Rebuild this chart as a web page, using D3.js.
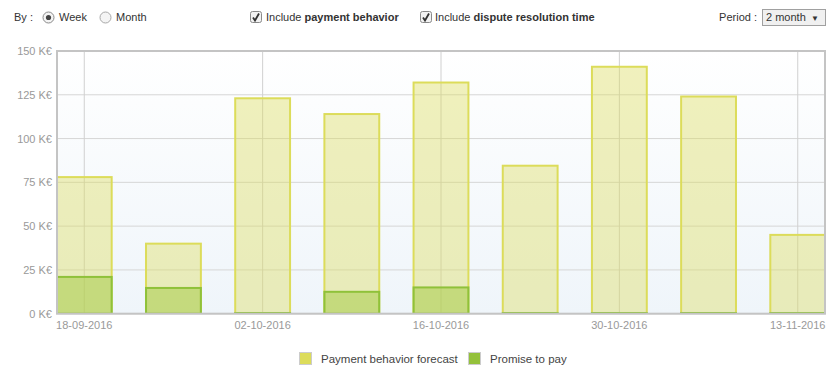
<!DOCTYPE html>
<html><head><meta charset="utf-8">
<script src="https://cdn.jsdelivr.net/npm/d3@7"></script>
<style>
html,body{margin:0;padding:0;background:#fff;}
svg{display:block;font-family:"Liberation Sans",Arial,sans-serif;}
</style></head>
<body><svg id="chart" width="836" height="375"></svg>
<script>
// ---- data ----
const weeks = ["2016-09-18","2016-09-25","2016-10-02","2016-10-09","2016-10-16","2016-10-23","2016-10-30","2016-11-06","2016-11-13"];
const forecast = [78, 40, 123, 114, 132, 84.5, 141, 124, 45];
const promise = [21, 14.7, 0.4, 12.5, 15, 0.4, 0.4, 0.4, 0.4];
const yTicks = [0, 25, 50, 75, 100, 125, 150];
const xTickDates = ["2016-09-18","2016-10-02","2016-10-16","2016-10-30","2016-11-13"];
const seriesNames = ["Payment behavior forecast", "Promise to pay"];

const svg = d3.select("#chart");
const parse = d3.timeParse("%Y-%m-%d");
const fmt = d3.timeFormat("%d-%m-%Y");
const dates = weeks.map(parse);

const L = 57, R = 825, T = 51, B = 313.7;
const DAY = 86400000;
const pad = 2.14 * DAY;
const x = d3.scaleTime().domain([new Date(+dates[0] - pad), new Date(+dates[dates.length-1] + pad)]).range([L, R]);
const y = d3.scaleLinear().domain([0, 150]).range([B, T]);
const barW = (x(dates[1]) - x(dates[0])) * 0.615;

// gradient background
const defs = svg.append("defs");
const grad = defs.append("linearGradient").attr("id","bg").attr("x1",0).attr("y1",0).attr("x2",0).attr("y2",1);
grad.append("stop").attr("offset","0%").attr("stop-color","#ffffff");
grad.append("stop").attr("offset","100%").attr("stop-color","#eff5fa");
svg.append("rect").attr("x",L).attr("y",T).attr("width",R-L).attr("height",B-T).attr("fill","url(#bg)");

// horizontal grid
svg.append("g").selectAll("line").data(yTicks).join("line")
  .attr("x1",L).attr("x2",R).attr("y1",d=>y(d)).attr("y2",d=>y(d))
  .attr("stroke","#d6d6d6").attr("stroke-width",1);
// vertical grid
svg.append("g").selectAll("line").data(xTickDates.map(parse)).join("line")
  .attr("x1",d=>x(d)).attr("x2",d=>x(d)).attr("y1",T).attr("y2",B)
  .attr("stroke","#d0d0d0").attr("stroke-width",1);

// bars
const clip = defs.append("clipPath").attr("id","plotclip");
clip.append("rect").attr("x",L).attr("y",T-5).attr("width",R-L).attr("height",B-T+5);
const gb = svg.append("g").attr("clip-path","url(#plotclip)");
gb.selectAll("rect.f").data(forecast).join("rect").attr("class","f")
  .attr("x",(d,i)=>x(dates[i]) - barW/2).attr("width",barW)
  .attr("y",d=>y(d)).attr("height",d=>B - y(d))
  .attr("fill","rgba(220,220,90,0.40)").attr("stroke","#dcdc5a").attr("stroke-width",2);
gb.selectAll("rect.p").data(promise).join("rect").attr("class","p")
  .attr("x",(d,i)=>x(dates[i]) - barW/2).attr("width",barW)
  .attr("y",d=>y(d)).attr("height",d=>B - y(d))
  .attr("fill","rgba(168,204,74,0.55)").attr("stroke","#8fc13a").attr("stroke-width",2);

// plot border
svg.append("rect").attr("x",L).attr("y",T).attr("width",R-L).attr("height",B-T)
  .attr("fill","none").attr("stroke","#c4c4c4").attr("stroke-width",2);

// y axis labels
svg.append("g").selectAll("text").data(yTicks).join("text")
  .attr("x",52).attr("y",d=>y(d)+4).attr("text-anchor","end")
  .attr("font-size",11).attr("fill","#999").text(d=>d+" K€");
// x axis labels
svg.append("g").selectAll("text").data(xTickDates.map(parse)).join("text")
  .attr("x",d=>Math.min(x(d), 826 - 28)).attr("y",329).attr("text-anchor","middle")
  .attr("font-size",11).attr("fill","#999").text(d=>fmt(d));

// legend
const legColors = ["#dcdc5a","#94c13b"];
const legX = [299, 468];
const lg = svg.append("g");
seriesNames.forEach((n,i)=>{
  lg.append("rect").attr("x",legX[i]+0.5).attr("y",352.5).attr("width",12).attr("height",12)
    .attr("fill",legColors[i]).attr("stroke","#cccccc").attr("stroke-width",1);
  lg.append("text").attr("x",legX[i]+22).attr("y",362.5).attr("font-size",11.5).attr("fill","#444").text(n);
});

// top controls
const ctrl = svg.append("g").attr("font-size",11).attr("fill","#333");
ctrl.append("text").attr("x",14).attr("y",21).text("By :");
// radios
ctrl.append("circle").attr("cx",48.5).attr("cy",17.5).attr("r",5.5).attr("fill","#f4f4f4").attr("stroke","#8a8a8a");
ctrl.append("circle").attr("cx",48.5).attr("cy",17.5).attr("r",2.6).attr("fill","#444");
ctrl.append("text").attr("x",59).attr("y",21).text("Week");
ctrl.append("circle").attr("cx",105.5).attr("cy",17.5).attr("r",5.5).attr("fill","#f4f4f4").attr("stroke","#a8a8a8");
ctrl.append("text").attr("x",116).attr("y",21).text("Month");
// checkboxes
[[250.5,"payment behavior",266],[420.5,"dispute resolution time",435]].forEach(([cx,b,tx])=>{
  ctrl.append("rect").attr("x",cx).attr("y",11.5).attr("width",11).attr("height",11).attr("rx",2)
    .attr("fill","#f2f2f2").attr("stroke","#8a8a8a");
  ctrl.append("path").attr("d",`M${cx+2.5},${17.5} L${cx+4.5},${20.5} L${cx+8.5},${13.5}`)
    .attr("fill","none").attr("stroke","#333").attr("stroke-width",1.8);
  const t = ctrl.append("text").attr("x",tx).attr("y",21);
  t.append("tspan").text("Include ");
  t.append("tspan").attr("font-weight","bold").text(b);
});
ctrl.append("text").attr("x",757).attr("y",21).attr("text-anchor","end").text("Period :");
ctrl.append("rect").attr("x",762.5).attr("y",9.5).attr("width",63).attr("height",16)
  .attr("fill","#f0f0f0").attr("stroke","#a0a0a0");
ctrl.append("text").attr("x",766).attr("y",21).text("2 month");
ctrl.append("text").attr("x",811).attr("y",20.5).attr("font-size",8).text("▼");
</script></body></html>
